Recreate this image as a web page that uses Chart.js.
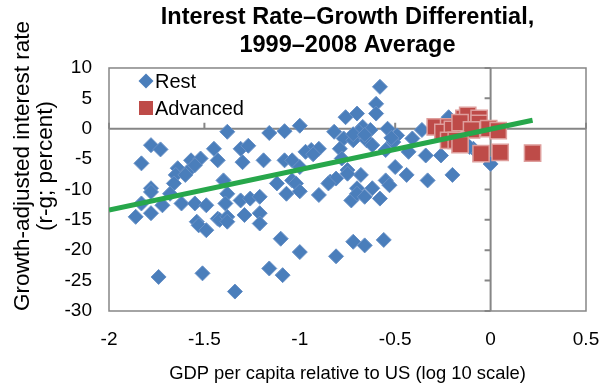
<!DOCTYPE html>
<html>
<head>
<meta charset="utf-8">
<script src="https://cdn.jsdelivr.net/npm/chart.js@4.4.1/dist/chart.umd.min.js"></script>
<style>
  html, body { margin: 0; padding: 0; background: #fff; }
  #wrap { width: 608px; height: 387px; }
</style>
</head>
<body>
<div id="wrap"><canvas id="chart"></canvas></div>
<script>
// log10 GDP per capita relative to US, and average r-g (percent)
const restX = [
  -1.38, -1.78, -1.73, -1.45, -1.31, -1.27, -1.16, -1.08, -1.00,
  -1.83, -1.57, -1.52, -1.43, -1.30, -1.19, -1.08, -1.04,
  -1.64, -1.65, -1.59, -1.60, -1.55,
  -1.78, -1.66, -1.40, -1.12, -1.04, -1.02,
  -1.78, -1.68, -1.83, -1.72, -1.62, -1.55, -1.49,
  -1.38, -1.39, -1.31, -1.26, -1.21, -1.07, -1.00,
  -1.86, -1.78, -1.54, -1.53, -1.49, -1.43, -1.42, -1.38, -1.38, -1.29, -1.21, -1.21,
  -1.10, -1.00, -1.74, -1.51, -1.16, -1.09, -1.34,
  -0.58, -0.60, -0.60, -0.76, -0.70, -0.67, -0.69, -0.63, -0.54, -0.82, -0.77, -0.72,
  -0.65, -0.49, -0.51, -0.41, -0.36, -0.72, -0.66, -0.52,
  -0.94, -0.90, -0.97, -0.93, -0.79, -0.78, -0.62, -0.55, -0.43, -0.34, -0.26, -0.22, -0.09, -0.11,
  -1.00, -0.75, -0.68, -0.50, -0.44, -0.33, -0.20, -0.84, -0.81, -0.70, -0.55, -0.53,
  -0.90, -0.85, -0.75, -0.73, -0.70, -0.66, -0.62, -0.58,
  -0.81, -0.72, -0.66, -0.56,
  0.00
];
const restY = [
  -0.5, -2.7, -3.4, -3.3, -3.3, -2.8, -0.7, -0.4, 0.5,
  -5.7, -5.2, -4.9, -5.2, -5.5, -5.2, -5.2, -5.2,
  -6.5, -7.6, -7.1, -7.6, -6.0,
  -9.8, -9.0, -8.5, -9.0, -8.5, -9.0,
  -10.4, -10.7, -12.3, -12.6, -12.3, -12.3, -12.6,
  -10.7, -12.3, -11.8, -11.5, -11.2, -10.7, -10.3,
  -14.5, -13.9, -15.3, -15.9, -16.7, -14.8, -15.0, -14.5, -15.3, -14.2, -13.9, -15.6,
  -18.1, -20.3, -24.4, -23.8, -23.0, -24.1, -26.8,
  6.9, 4.1, 2.5, 1.9, 2.5, 0.3, -0.5, -0.2, 0.0, -0.5, -1.6, -1.9,
  -1.9, -1.1, -2.2, -1.6, -0.2, -0.9, -1.0, -1.5,
  -3.5, -3.3, -3.8, -4.2, -3.3, -4.9, -2.7, -3.5, -3.8, -4.4, -4.4, 1.9, -3.3, -3.0,
  -6.3, -6.8, -7.6, -6.3, -7.6, -8.5, -7.6, -8.7, -8.2, -9.8, -8.5, -9.3,
  -10.9, -9.0, -7.4, -11.8, -10.7, -11.2, -9.8, -11.5,
  -21.0, -18.6, -19.2, -18.3,
  -5.8
];
const advX = [-0.29, -0.22, -0.25, -0.20, -0.14, -0.12, -0.16, -0.06, -0.06, -0.10, -0.01, 0.04, -0.22, -0.18, -0.16, -0.05, 0.05, 0.22];
const advY = [0.3, 0.3, -0.6, -0.1, 1.7, 2.2, 1.0, 1.7, 0.9, -0.2, 0.0, -0.3, -1.9, -1.9, -2.6, -4.1, -3.9, -4.0];
// fitted trend line end points
const fitX = [-2, 0.22];
const fitY = [-13.4, 1.4];

const yTitle = ['Growth-adjusted interest rate', '(r-g; percent)'];

const toPoints = (xs, ys) => xs.map((x, i) => ({x: x, y: ys[i]}));

const FONT = '"Liberation Sans", Arial, sans-serif';
const AXIS_GREY = '#868686';

// frame round the plot, plus the zero lines with their small tick marks
const zeroAxes = {
  id: 'zeroAxes',
  beforeDatasetsDraw(chart) {
    const {ctx, chartArea: a} = chart;
    const xs = chart.scales.x, ys = chart.scales.y;
    const x0 = xs.getPixelForValue(0), y0 = ys.getPixelForValue(0);
    ctx.save();
    ctx.strokeStyle = AXIS_GREY;
    ctx.lineWidth = 1.5;
    ctx.strokeRect(a.left, a.top, a.width, a.height);
    ctx.lineWidth = 2;
    ctx.beginPath();
    ctx.moveTo(a.left, y0); ctx.lineTo(a.right, y0);
    ctx.moveTo(x0, a.top); ctx.lineTo(x0, a.bottom);
    xs.ticks.forEach(t => {
      const px = xs.getPixelForValue(t.value);
      ctx.moveTo(px, y0); ctx.lineTo(px, y0 - 6);
    });
    ys.ticks.forEach(t => {
      const py = ys.getPixelForValue(t.value);
      ctx.moveTo(x0, py); ctx.lineTo(x0 - 6, py);
    });
    ctx.stroke();
    ctx.restore();
  }
};

// legend box sitting in the top left corner of the plot
const cornerLegend = {
  id: 'cornerLegend',
  afterDatasetsDraw(chart) {
    const {ctx, chartArea: a} = chart;
    const rest = chart.data.datasets[2], adv = chart.data.datasets[1];
    const mx = a.left + 37;
    ctx.save();
    // diamond
    const cy = a.top + 13;
    ctx.fillStyle = rest.backgroundColor;
    ctx.beginPath();
    ctx.moveTo(mx, cy - 7.5); ctx.lineTo(mx + 7.5, cy); ctx.lineTo(mx, cy + 7.5); ctx.lineTo(mx - 7.5, cy);
    ctx.closePath();
    ctx.fill();
    // square
    const sy = a.top + 40;
    ctx.fillStyle = adv.backgroundColor;
    ctx.fillRect(mx - 7, sy - 7, 14, 14);
    ctx.fillStyle = '#000';
    ctx.font = '20px ' + FONT;
    ctx.textBaseline = 'middle';
    ctx.fillText(rest.label, a.left + 46, cy + 1);
    ctx.fillText(adv.label, a.left + 46, sy + 1);
    ctx.restore();
  }
};

// two-line vertical title, sitting a little above the middle of the plot
const sideTitle = {
  id: 'sideTitle',
  afterDraw(chart) {
    const {ctx, chartArea: a} = chart;
    ctx.save();
    ctx.translate(23, a.top + 98);
    ctx.rotate(-Math.PI / 2);
    ctx.fillStyle = '#000';
    ctx.font = '22.5px ' + FONT;
    ctx.textAlign = 'center';
    ctx.textBaseline = 'middle';
    yTitle.forEach((line, i) => ctx.fillText(line, 0, i * 23));
    ctx.restore();
  }
};

new Chart(document.getElementById('chart'), {
  type: 'scatter',
  data: {
    datasets: [
      {
        type: 'line',
        label: 'Trend',
        data: toPoints(fitX, fitY),
        borderColor: '#27A74B',
        borderWidth: 5,
        pointRadius: 0,
        fill: false
      },
      {
        label: 'Advanced',
        data: toPoints(advX, advY),
        pointStyle: 'rect',
        pointRadius: 11.5,
        backgroundColor: '#BE4B48',
        borderColor: '#DE9E9C',
        borderWidth: 1.5
      },
      {
        label: 'Rest',
        data: toPoints(restX, restY),
        pointStyle: 'rectRot',
        pointRadius: 7.5,
        backgroundColor: '#4A7EBB',
        borderColor: '#6790C6',
        borderWidth: 1
      }
    ]
  },
  options: {
    responsive: true,
    maintainAspectRatio: false,
    animation: false,
    layout: { padding: { left: 0, right: 22, top: 0, bottom: 0 } },
    plugins: {
      legend: { display: false },
      tooltip: { enabled: false },
      title: {
        display: true,
        fullSize: false,
        text: ['Interest Rate\u2013Growth Differential,', '1999\u20132008 Average'],
        color: '#000',
        font: { family: FONT, size: 23.5, weight: 'bold', lineHeight: 1.17 },
        padding: { top: 4, bottom: 9 }
      }
    },
    scales: {
      x: {
        type: 'linear',
        min: -2,
        max: 0.5,
        afterFit: s => { s.height = 76; },
        grid: { display: false, drawTicks: true, tickLength: 17 },
        border: { display: false },
        ticks: {
          stepSize: 0.5,
          color: '#000',
          padding: 0,
          font: { family: FONT, size: 19 },
          callback: v => String(v)
        },
        title: {
          display: true,
          text: 'GDP per capita relative to US (log 10 scale)',
          color: '#000',
          font: { family: FONT, size: 18.4, lineHeight: 1.15 },
          padding: { top: 0, bottom: 2 }
        }
      },
      y: {
        min: -30,
        max: 10,
        afterFit: s => { s.width = 109; },
        grid: { display: false, drawTicks: false },
        border: { display: false },
        ticks: { stepSize: 5, color: '#000', padding: 17, font: { family: FONT, size: 19 } }
      }
    }
  },
  plugins: [zeroAxes, cornerLegend, sideTitle]
});
</script>
</body>
</html>
